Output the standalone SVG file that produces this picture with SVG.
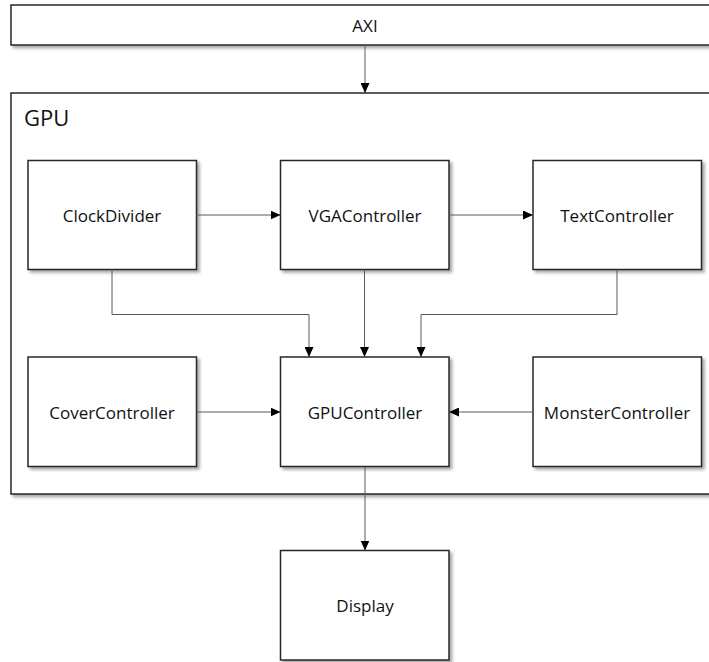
<svg xmlns="http://www.w3.org/2000/svg" width="709" height="662" viewBox="0 0 709 662">
<style>
.box{fill:#fff;stroke:#262626;stroke-width:1.5;filter:url(#sh)}
.lbl{font-family:"Open Sans","Noto Sans",sans-serif;font-size:17px;fill:#111;text-anchor:middle;dominant-baseline:central}
.con{fill:none;stroke:#5a5a5a;stroke-width:1;marker-end:url(#arr)}
</style>
<defs>
<filter id="sh" x="-10%" y="-10%" width="130%" height="130%">
<feDropShadow dx="2.5" dy="2.5" stdDeviation="1.5" flood-color="#000" flood-opacity="0.35"/>
</filter>
<marker id="arr" markerWidth="10" markerHeight="9" refX="10" refY="4.5" orient="auto" markerUnits="userSpaceOnUse">
<path d="M0,0 L10,4.5 L0,9 Z" fill="#000"/>
</marker>
</defs>
<rect width="709" height="662" fill="#fff"/>
<g id="axi"><rect class="box" x="11" y="5" width="710" height="40"/><text class="lbl" x="365" y="25">AXI</text></g>
<g id="gpu"><rect class="box" x="11" y="93" width="710" height="401"/><text x="24" y="126" style="font-family:'Open Sans','Noto Sans',sans-serif;font-size:22px;fill:#111">GPU</text></g>
<g id="clockdivider"><rect class="box" x="28" y="160.5" width="168.5" height="109"/><text class="lbl" x="112" y="215">ClockDivider</text></g>
<g id="vgacontroller"><rect class="box" x="280.5" y="160.5" width="168.5" height="109"/><text class="lbl" x="365" y="215">VGAController</text></g>
<g id="textcontroller"><rect class="box" x="533" y="160.5" width="168.5" height="109"/><text class="lbl" x="617" y="215">TextController</text></g>
<g id="covercontroller"><rect class="box" x="28" y="357" width="168.5" height="109.5"/><text class="lbl" x="112" y="412">CoverController</text></g>
<g id="gpucontroller"><rect class="box" x="280.5" y="357" width="168.5" height="109.5"/><text class="lbl" x="365" y="412">GPUController</text></g>
<g id="monstercontroller"><rect class="box" x="533" y="357" width="168.5" height="109.5"/><text class="lbl" x="617" y="412">MonsterController</text></g>
<g id="display"><rect class="box" x="280.5" y="550.5" width="168.5" height="109.5"/><text class="lbl" x="365" y="605">Display</text></g>
<g id="connectors">
<path class="con" d="M365,45 V93"/>
<path class="con" d="M196.5,215 H280.5"/>
<path class="con" d="M449,215 H533"/>
<path class="con" d="M112,269.5 V314.5 H309 V357"/>
<path class="con" d="M364.5,269.5 V357"/>
<path class="con" d="M617,269.5 V314.5 H421 V357"/>
<path class="con" d="M196.5,412 H280.5"/>
<path class="con" d="M533,412 H449"/>
<path class="con" d="M365,466.5 V550.5"/>
</g>
</svg>
